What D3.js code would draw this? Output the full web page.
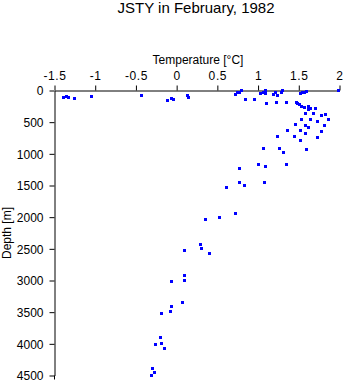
<!DOCTYPE html>
<html>
<head>
<meta charset="utf-8">
<script src="https://cdn.jsdelivr.net/npm/d3@7"></script>
<style>
  html, body { margin: 0; padding: 0; background: #fff; }
  svg { display: block; font-family: "Liberation Sans", Arial, Helvetica, sans-serif; }
</style>
</head>
<body>
<svg id="chart" width="345" height="384"></svg>
<script>
const title = "JSTY in February, 1982";
const xLabel = "Temperature [\u00B0C]";
const yLabel = "Depth [m]";
const xTicks = [-1.5, -1, -0.5, 0, 0.5, 1, 1.5, 2];
const xTickLabels = ["-1.5", "-1", "-0.5", "0", "0.5", "1", "1.5", "2"];
const yTicks = [0, 500, 1000, 1500, 2000, 2500, 3000, 3500, 4000, 4500];
const yTickLabels = ["0", "500", "1000", "1500", "2000", "2500", "3000", "3500", "4000", "4500"];

const temperature = [
  -1.386, -1.356, -1.331, -1.257, -1.045, -0.431, -0.112, -0.063, -0.038, 0.134,
  0.146, 0.723, 0.748, 0.772, 0.797, 0.842, 0.962, 1.030, 1.067, 1.097,
  1.088, 1.104, 1.195, 1.215, 1.239, 1.227, 1.285, 1.297, 1.350, 1.477,
  1.490, 1.526, 1.546, 1.571, 1.592, 1.514, 1.539, 1.571, 1.620, 1.616,
  1.641, 1.706, 1.583, 1.681, 1.779, 1.829, 1.534, 1.644, 1.865, 1.730,
  1.460, 1.583, 1.816, 1.526, 1.625, 1.579, 1.779, 1.362, 1.239, 1.448,
  1.730, 1.522, 1.067, 1.260, 1.309, 1.595, 0.772, 1.006, 1.092, 1.350,
  0.777, 0.830, 1.079, 0.613, 0.723, 0.527, 0.355, 0.298, 0.306, 0.400,
  0.097, 0.102, -0.063, 0.102, 0.072, -0.063, -0.185, -0.070, -0.198, -0.259,
  -0.185, -0.149, -0.291, -0.271, -0.308, 1.990
];
const depth = [
  103, 87, 103, 131, 99, 79, 153, 131, 147, 84,
  115, 58, 36, 36, 5, 147, 147, 52, 32, 5,
  43, 205, 58, 32, 79, 194, 36, 5, 189, 194,
  201, 52, 32, 32, 16, 226, 248, 273, 257, 305,
  284, 284, 368, 368, 395, 379, 453, 463, 463, 494,
  542, 548, 557, 636, 589, 684, 652, 627, 722, 731,
  747, 790, 916, 921, 979, 936, 1232, 1173, 1205, 1173,
  1457, 1505, 1457, 1536, 1947, 2001, 2037, 2432, 2500, 2579,
  2527, 2916, 3021, 3005, 3348, 3406, 3521, 3494, 3900, 4011,
  3995, 4079, 4390, 4458, 4505, 0
];

const svg = d3.select("#chart");
const x = d3.scaleLinear().domain([-1.5, 2]).range([54.5, 339.5]);
const y = d3.scaleLinear().domain([0, 4500]).range([90.5, 375.5]);

// title
svg.append("text")
  .attr("x", 196).attr("y", 13)
  .attr("text-anchor", "middle")
  .attr("font-size", 15)
  .text(title);

// top axis
const xAxis = d3.axisTop(x)
  .tickValues(xTicks)
  .tickFormat((d, i) => xTickLabels[i])
  .tickSizeInner(5).tickSizeOuter(0).tickPadding(6);
const gx = svg.append("g").attr("transform", "translate(0,90.5)").call(xAxis);
gx.select(".domain").attr("stroke", "#000").attr("stroke-width", 1);
gx.selectAll(".tick line").attr("stroke", "#000");
gx.selectAll(".tick text").attr("font-size", 12).attr("fill", "#000")
  .attr("font-family", "'Liberation Sans', Arial, sans-serif").attr("letter-spacing", "0.6");

// left axis
const yAxis = d3.axisLeft(y)
  .tickValues(yTicks)
  .tickFormat((d, i) => yTickLabels[i])
  .tickSizeInner(5).tickSizeOuter(0).tickPadding(6);
const gy = svg.append("g").attr("transform", "translate(54.5,0)").call(yAxis);
gy.select(".domain").attr("stroke", "#000");
gy.selectAll(".tick line").attr("stroke", "#000");
gy.selectAll(".tick text").attr("font-size", 12).attr("fill", "#000")
  .attr("font-family", "'Liberation Sans', Arial, sans-serif").attr("dy", "0.36em");
// small extension of the axis line below the last tick
svg.append("line")
  .attr("x1", 54.5).attr("x2", 54.5)
  .attr("y1", y(4500)).attr("y2", y(4500) + 4)
  .attr("stroke", "#000");

// axis labels
svg.append("text")
  .attr("x", 198).attr("y", 64)
  .attr("text-anchor", "middle")
  .attr("font-size", 12)
  .text(xLabel);
svg.append("text")
  .attr("transform", "translate(11,233) rotate(-90)")
  .attr("text-anchor", "middle")
  .attr("font-size", 12)
  .text(yLabel);

// points
const pts = temperature.map((t, i) => ({ t, d: depth[i] }));
svg.append("g").selectAll("rect").data(pts).enter().append("rect")
  .attr("x", d => Math.round(x(d.t) - 1.5))
  .attr("y", d => Math.round(y(d.d) - 1.5))
  .attr("width", 3).attr("height", 3)
  .attr("fill", "#0000ff")
  .attr("shape-rendering", "crispEdges");
</script>
</body>
</html>
